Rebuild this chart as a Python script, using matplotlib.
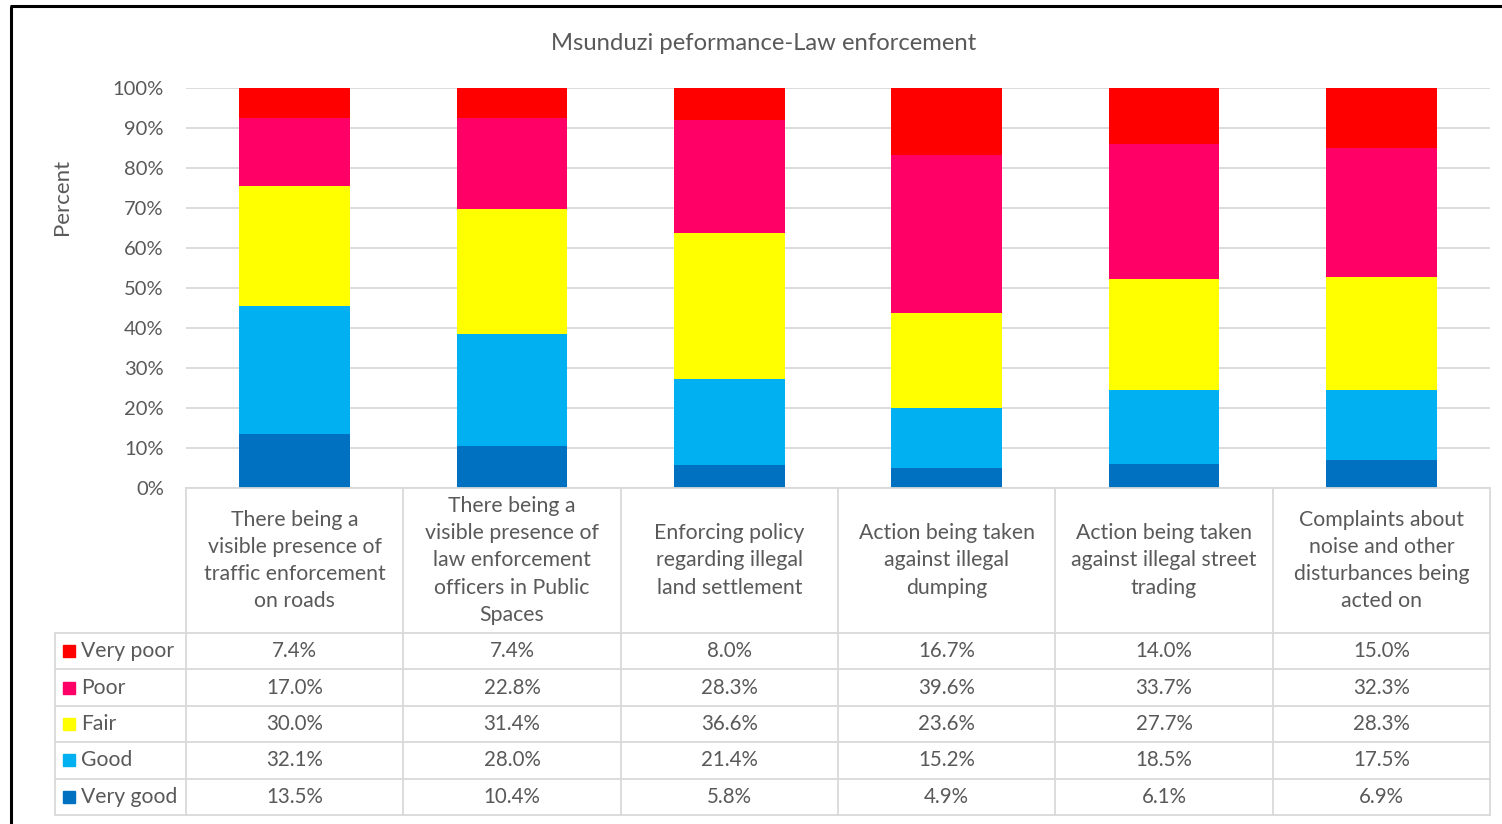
import matplotlib
matplotlib.use("Agg")
import matplotlib.pyplot as plt
import numpy as np
from matplotlib.patches import Rectangle

plt.rcParams['font.family'] = ['Lato', 'DejaVu Sans']

categories = [
    "There being a\nvisible presence of\ntraffic enforcement\non roads",
    "There being a\nvisible presence of\nlaw enforcement\nofficers in Public\nSpaces",
    "Enforcing policy\nregarding illegal\nland settlement",
    "Action being taken\nagainst illegal\ndumping",
    "Action being taken\nagainst illegal street\ntrading",
    "Complaints about\nnoise and other\ndisturbances being\nacted on",
]
series_names = ["Very poor", "Poor", "Fair", "Good", "Very good"]
very_poor = [7.4, 7.4, 8.0, 16.7, 14.0, 15.0]
poor = [17.0, 22.8, 28.3, 39.6, 33.7, 32.3]
fair = [30.0, 31.4, 36.6, 23.6, 27.7, 28.3]
good = [32.1, 28.0, 21.4, 15.2, 18.5, 17.5]
very_good = [13.5, 10.4, 5.8, 4.9, 6.1, 6.9]
colors = ["#FF0000", "#FF0066", "#FFFF00", "#00B0F0", "#0070C0"]
title = "Msunduzi peformance-Law enforcement"
ylabel = "Percent"

W, H = 1502, 824
fig = plt.figure(figsize=(W / 100, H / 100), dpi=100)
TXT = "#595959"
GRID = "#D9D9D9"

def fx(x):
    return x / W

def fy(y):
    return 1 - y / H

# layout (pixels)
ax_l, ax_r, ax_t, ax_b = 186, 1490, 88, 488
ax = fig.add_axes([fx(ax_l), fy(ax_b), (ax_r - ax_l) / W, (ax_b - ax_t) / H])

data = np.array([very_poor, poor, fair, good, very_good])
pct = data / data.sum(axis=0) * 100
n = len(categories)
x = np.arange(n)

# stack from bottom: Very good, Good, Fair, Poor, Very poor
bottom = np.zeros(n)
for i in range(len(series_names) - 1, -1, -1):
    ax.bar(x, pct[i], 0.51, bottom=bottom, color=colors[i], zorder=3, linewidth=0)
    bottom += pct[i]

ax.set_xlim(-0.5, n - 0.5)
ax.set_ylim(0, 100)
ax.set_yticks(np.arange(0, 101, 10))
ax.set_yticklabels([f"{v}%" for v in range(0, 101, 10)], color=TXT, fontsize=14.5)
ax.tick_params(axis='y', length=0, pad=16)
ax.set_xticks([])
for s in ax.spines.values():
    s.set_visible(False)
ax.grid(axis='y', color=GRID, linewidth=1.3, zorder=0)
ax.set_axisbelow(True)

# overlay axes in pixel coordinates for table, title, border
ov = fig.add_axes([0, 0, 1, 1], zorder=5)
ov.set_xlim(0, W)
ov.set_ylim(H, 0)
ov.axis('off')
ov.patch.set_alpha(0)

# outer border
ov.plot([10.5, 10.5], [5.5, H + 5], color="black", lw=2.2, solid_capstyle='butt')
ov.plot([10, W + 5], [5.5, 5.5], color="black", lw=2.2, solid_capstyle='butt')

ov.text(764, 43, title, ha='center', va='center', color=TXT, fontsize=17.2)
ov.text(62, 197, ylabel, rotation=90, ha='center', va='center', color=TXT, fontsize=16)

# table
colw = (ax_r - ax_l) / n
lab_l = 55
head_b = 633
row_h = (815 - head_b) / 5
row_ys = [head_b + k * row_h for k in range(6)]
lw = 1.3
# vertical lines
for k in range(n + 1):
    xx = ax_l + k * colw
    ov.plot([xx, xx], [ax_b, row_ys[-1]], color=GRID, lw=lw)
ov.plot([lab_l, lab_l], [head_b, row_ys[-1]], color=GRID, lw=lw)
# horizontal lines
ov.plot([ax_l, ax_r], [ax_b, ax_b], color=GRID, lw=lw)
for yy in row_ys:
    ov.plot([lab_l, ax_r], [yy, yy], color=GRID, lw=lw)

for j, c in enumerate(categories):
    cx = ax_l + (j + 0.5) * colw
    ov.text(cx, (ax_b + head_b) / 2, c, ha='center', va='center', color=TXT,
            fontsize=15.3, linespacing=1.45)

for i, name in enumerate(series_names):
    cy = (row_ys[i] + row_ys[i + 1]) / 2
    ov.add_patch(Rectangle((63, cy - 6), 12, 12, color=colors[i]))
    ov.text(81, cy, name, ha='left', va='center', color=TXT, fontsize=15.2)
    for j in range(n):
        cx = ax_l + (j + 0.5) * colw
        ov.text(cx, cy, f"{data[i, j]:.1f}%", ha='center', va='center', color=TXT, fontsize=14.8)

fig.savefig("out.png", dpi=100)
